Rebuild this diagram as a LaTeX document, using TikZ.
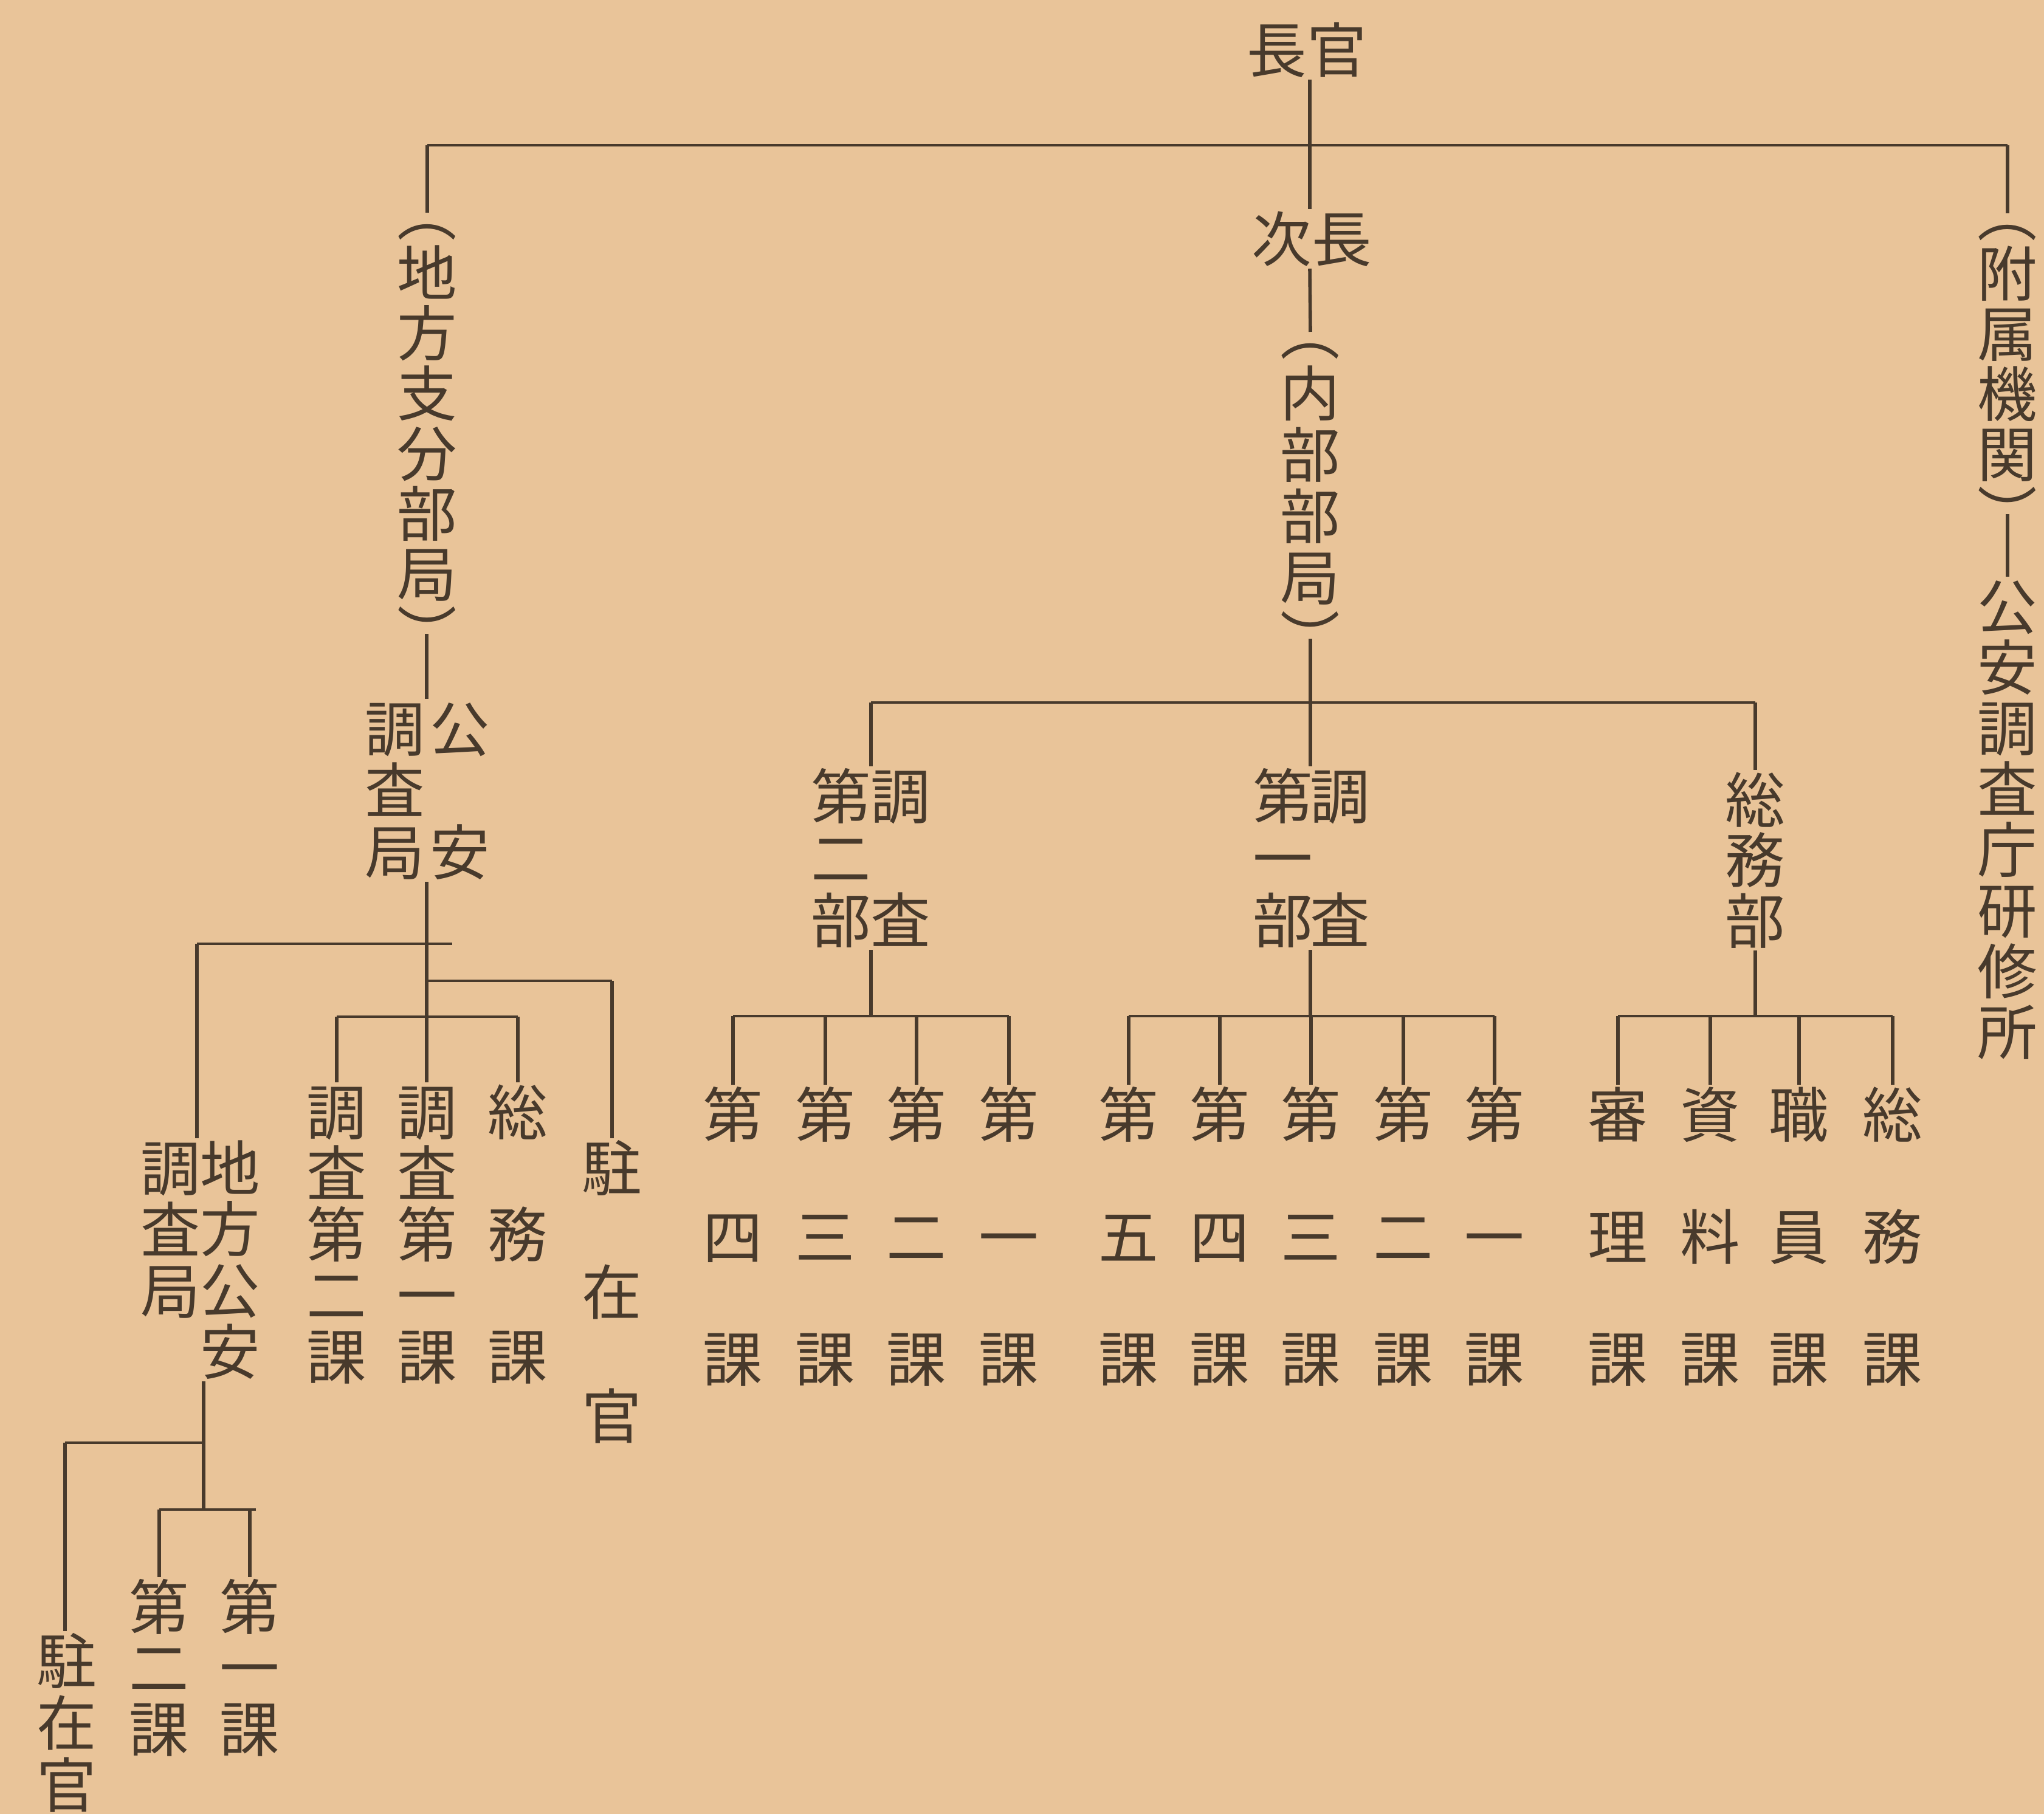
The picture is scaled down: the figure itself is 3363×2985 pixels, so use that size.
\documentclass[tikz,border=0pt]{standalone}
\usepackage{fontspec}
\newfontfamily\cjk{Noto Sans CJK JP}
\definecolor{paper}{RGB}{233,196,153}
\definecolor{ink}{RGB}{72,58,44}
\newcommand\vcol[5]{\foreach \ch [count=\k from 0] in {#5} {\node[kj] (#1\k) at (#2,{#3+\k*#4}) {\ch};}}
\begin{document}
\begin{tikzpicture}[x=0.01cm,y=-0.01cm,
  kj/.style={inner sep=0pt, outer sep=0pt, text height=24.6pt, text depth=3.4pt, font=\cjk\fontsize{28}{28}\selectfont, text=ink},
  hl/.style={draw=ink, line width=1.1pt},
  vl/.style={draw=ink, line width=1.6pt}]
\fill[paper] (0,0) rectangle (3363,2985);
\useasboundingbox (0,0) rectangle (3363,2985);

% ---------- top ----------
\node[kj] (chokan) at (2150,82) {長官};
\node[kj] (jicho) at (2158,393) {次長};
\coordinate (tbL) at (703,239);
\coordinate (tbC) at (2155,239);
\coordinate (tbR) at (3303,239);
\draw[hl] (tbL) -- (tbR);
\draw[vl] (chokan.south -| tbC) -- (jicho.north -| tbC);

% ---------- left branch ----------
\vcol{lc}{703}{350}{99}{︵,地,方,支,分,部,局,︶}
\draw[vl] (tbL) -- (lc0.center);
\vcol{kl}{650}{1199}{101.5}{調,査,局}
\vcol{kr}{757}{1199}{203}{公,安}
\coordinate (kstem) at (702,1553);
\draw[vl] (lc7.center -| kstem) -- (kl0.north -| kstem);
\draw[vl] (kl2.south -| kstem) -- (kstem);
\coordinate (kbL) at (324,1553);
\coordinate (kbR) at (744,1553);
\draw[hl] (kbL) -- (kbR);
\vcol{ca}{554}{1830}{100.5}{調,査,第,二,課}
\vcol{cb}{703}{1830}{100.5}{調,査,第,一,課}
\vcol{cc}{852}{1830}{201}{総,務,課}
\vcol{cd}{1007}{1922}{204}{駐,在,官}
\vcol{cer}{379}{1922}{100.7}{地,方,公,安}
\vcol{cel}{281}{1922}{101}{調,査,局}
\draw[vl] (kstem) -- (cb0.north -| kstem);
\coordinate (kbr) at (702,1614);
\draw[hl] (kbr) -- (kbr -| cd0);
\draw[vl] (kbr -| cd0) -- (cd0.north);
\coordinate (kb2) at (702,1673);
\draw[hl] (kb2 -| ca0) -- (kb2 -| cc0);
\draw[vl] (kb2 -| ca0) -- (ca0.north);
\draw[vl] (kb2 -| cc0) -- (cc0.north);
\draw[vl] (kbL) -- (kbL |- cer0.north);

% sub-branch of 地方公安調査局
\coordinate (ds) at (335,2374);
\coordinate (dbL) at (107,2374);
\coordinate (d2) at (335,2484);
\coordinate (dbR) at (421,2484);
\draw[vl] (cer3.south -| ds) -- (ds);
\draw[hl] (dbL) -- (ds);
\vcol{da}{110}{2733}{102}{駐,在,官}
\vcol{db}{262}{2644}{100.5}{第,二,課}
\vcol{dc}{411}{2644}{100.5}{第,一,課}
\draw[vl] (dbL) -- (dbL |- da0.north);
\draw[vl] (ds) -- (d2);
\draw[hl] (d2 -| db0) -- (dbR);
\draw[vl] (d2 -| db0) -- (db0.north);
\draw[vl] (d2 -| dc0) -- (dc0.north);

% ---------- middle branch ----------
\vcol{nc}{2156}{546}{101}{︵,内,部,部,局,︶}
\draw[vl] (jicho.south -| tbC) -- (nc0.center);
\coordinate (mb) at (2156,1156);
\coordinate (mbL) at (1433,1156);
\coordinate (mbR) at (2888,1156);
\draw[vl] (nc5.center) -- (mb);
\draw[hl] (mbL) -- (mbR);
\vcol{pl}{1384}{1310}{102}{第,二,部}
\vcol{pr}{1482}{1310}{204}{調,査}
\vcol{ql}{2111}{1310}{102}{第,一,部}
\vcol{qr}{2205}{1310}{204}{調,査}
\vcol{sm}{2888}{1316}{99.5}{総,務,部}
\draw[vl] (mbL) -- (mbL |- pl0.north);
\draw[vl] (mb) -- (mb |- ql0.north);
\draw[vl] (mbR) -- (sm0.north);

% groups of sections
\coordinate (g1) at (1433,1672);
\coordinate (g2) at (2156,1672);
\coordinate (g3) at (2888,1672);
\draw[vl] (g1 |- pl2.south) -- (g1);
\draw[vl] (g2 |- ql2.south) -- (g2);
\draw[vl] (sm2.south) -- (g3);
\vcol{ga}{1206}{1834}{201}{第,四,課}
\vcol{gb}{1358}{1834}{201}{第,三,課}
\vcol{gc}{1508}{1834}{201}{第,二,課}
\vcol{gd}{1660}{1834}{201}{第,一,課}
\vcol{ha}{1857}{1834}{201}{第,五,課}
\vcol{hb}{2007}{1834}{201}{第,四,課}
\vcol{hc}{2157}{1834}{201}{第,三,課}
\vcol{hd}{2309}{1834}{201}{第,二,課}
\vcol{he}{2459}{1834}{201}{第,一,課}
\vcol{ia}{2662}{1834}{201}{審,理,課}
\vcol{ib}{2814}{1834}{201}{資,料,課}
\vcol{ic}{2960}{1834}{201}{職,員,課}
\vcol{id}{3114}{1834}{201}{総,務,課}
\draw[hl] (g1 -| ga0) -- (g1 -| gd0);
\draw[hl] (g2 -| ha0) -- (g2 -| he0);
\draw[hl] (g3 -| ia0) -- (g3 -| id0);
\foreach \n in {ga,gb,gc,gd} {\draw[vl] (g1 -| \n0) -- (\n0.north);}
\foreach \n in {ha,hb,hc,hd,he} {\draw[vl] (g2 -| \n0) -- (\n0.north);}
\foreach \n in {ia,ib,ic,id} {\draw[vl] (g3 -| \n0) -- (\n0.north);}

% ---------- right branch ----------
\vcol{fc}{3303}{351}{99}{︵,附,属,機,関,︶}
\draw[vl] (tbR) -- (fc0.center);
\vcol{ko}{3303}{998}{100}{公,安,調,査,庁,研,修,所}
\draw[vl] (fc5.center) -- (ko0.north);
\end{tikzpicture}
\end{document}
